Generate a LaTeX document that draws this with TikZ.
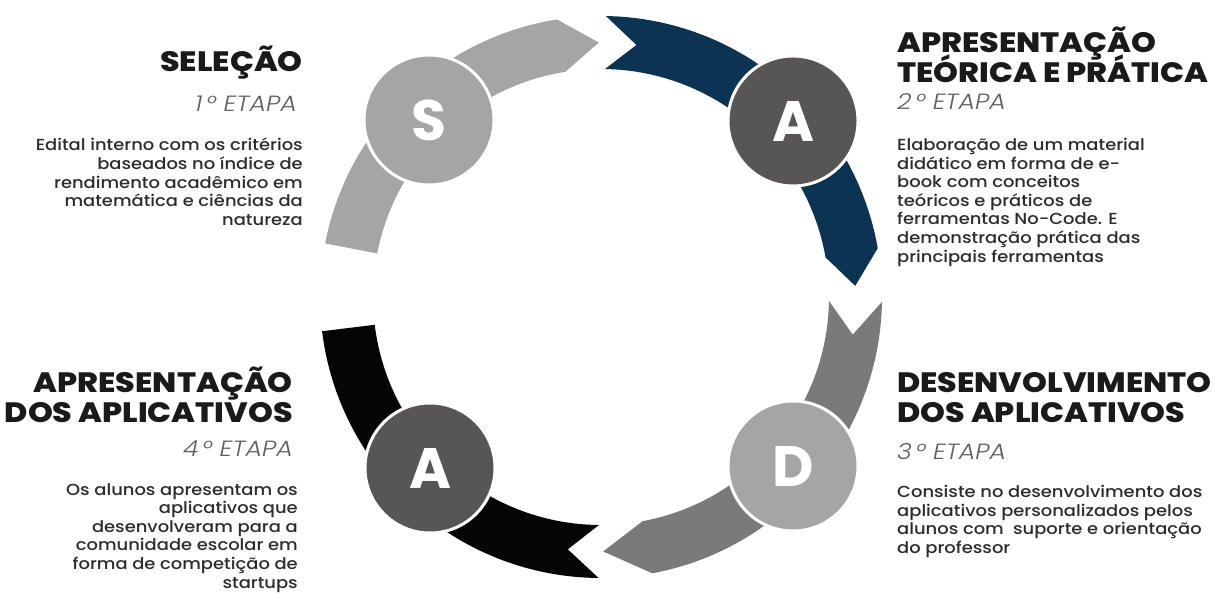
\documentclass[tikz,border=0pt]{standalone}
\usepackage{fontspec}
\setmainfont{Poppins}
\newfontfamily\headf{Poppins}[UprightFont=* ExtraBold, FakeStretch=1.13]
\newfontfamily\etapaf{Poppins}[UprightFont=* Light Italic, FakeStretch=1.15]
\newfontfamily\descf{Poppins}[UprightFont=* Medium, FakeStretch=1.12]
\newfontfamily\letterf{Poppins}[UprightFont=* Bold]
\definecolor{lgray}{HTML}{A5A5A5}
\definecolor{mgray}{HTML}{7A7A7A}
\definecolor{dgray}{HTML}{585555}
\definecolor{navyc}{HTML}{0C3452}
\definecolor{blk}{HTML}{050505}
\definecolor{headc}{HTML}{1A1A1A}
\definecolor{etapac}{HTML}{5F5F5F}
\definecolor{descc}{HTML}{2C2C2C}
\tikzset{
  stagecircle/.style={circle, draw=white, line width=3pt, minimum size=130pt, inner sep=0pt,
     text=white, font=\letterf\fontsize{57}{57}\selectfont},
  head/.style={inner sep=0pt, text=headc, font=\headf\fontsize{28}{30}\selectfont},
  etapa/.style={inner sep=0pt, text=etapac, font=\etapaf\fontsize{22}{22}\selectfont},
  desc/.style={inner sep=0pt, text=descc, font=\descf\fontsize{16}{18.6}\selectfont},
}
\begin{document}
\begin{tikzpicture}[x=1pt,y=1pt]
\clip (0,0) rectangle (1222,594);
\fill[white] (0,0) rectangle (1222,594);
\begin{scope}[shift={(601,297)}]
% gray S arrow: flat tail, pointed head
\fill[lgray] (169:281pt) arc[start angle=169, end angle=99, radius=281pt]
  -- (90.5:254.5pt) -- (99:228pt) arc[start angle=99, end angle=169, radius=228pt] -- cycle;
% navy arrow: notched tail, pointed head
\fill[navyc] (89:281pt) arc[start angle=89, end angle=10, radius=281pt]
  -- (2.5:254.5pt) -- (10:228pt) arc[start angle=10, end angle=89, radius=228pt]
  -- (82:254.5pt) -- cycle;
% mid gray D arrow
\fill[mgray] (-1:281pt) arc[start angle=-1, end angle=-79.5, radius=281pt]
  -- (-89.5:254.5pt) -- (-79.5:228pt) arc[start angle=-79.5, end angle=-1, radius=228pt]
  -- (-8.5:254.5pt) -- cycle;
% black arrow: notched tail, flat end
\fill[blk] (-90.5:281pt) arc[start angle=-90.5, end angle=-173, radius=281pt]
  -- (-173:228pt) arc[start angle=-173, end angle=-90.5, radius=228pt]
  -- (-97.5:254.5pt) -- cycle;
\end{scope}
% circles
\node[stagecircle, fill=lgray] (cS) at (429,474) {S};
\node[stagecircle, fill=dgray] (cA) at (793,473) {A};
\node[stagecircle, fill=lgray] (cD) at (793,128) {D};
\node[stagecircle, fill=dgray] (cA2) at (430,126) {A};
% stage 1
\node[head, anchor=base east] (h1) at (303,522) {SELEÇÃO};
\node[etapa, anchor=base east] (e1) at (297,482) {1\,° ETAPA};
\node[desc, anchor=north east, align=right] (d1) at (303,456)
  {Edital interno com os critérios\\baseados no índice de\\rendimento acadêmico em\\matemática e ciências da\\natureza};
% stage 2
\node[head, anchor=base west] (h2a) at (897,541) {APRESENTAÇÃO};
\node[head, anchor=base west] (h2b) at (897,511) {TEÓRICA E PRÁTICA};
\node[etapa, anchor=base west] (e2) at (897,484) {2\,° ETAPA};
\node[desc, anchor=north west, align=left] (d2) at (897,456)
  {Elaboração de um material\\didático em forma de e-\\book com conceitos\\teóricos e práticos de\\ferramentas No-Code. E\\demonstração prática das\\principais ferramentas};
% stage 3
\node[head, anchor=base west] (h3a) at (897,201) {DESENVOLVIMENTO};
\node[head, anchor=base west] (h3b) at (897,171) {DOS APLICATIVOS};
\node[etapa, anchor=base west] (e3) at (897,134) {3\,° ETAPA};
\node[desc, anchor=north west, align=left] (d3) at (897,109)
  {Consiste no desenvolvimento dos\\aplicativos personalizados pelos\\alunos com \ suporte e orientação\\do professor};
% stage 4
\node[head, anchor=base east] (h4a) at (293,201) {APRESENTAÇÃO};
\node[head, anchor=base east] (h4b) at (293,171) {DOS APLICATIVOS};
\node[etapa, anchor=base east] (e4) at (293,137) {4\,° ETAPA};
\node[desc, anchor=north east, align=right] (d4) at (298,111)
  {Os alunos apresentam os\\aplicativos que\\desenvolveram para a\\comunidade escolar em\\forma de competição de\\startups};
\end{tikzpicture}
\end{document}
